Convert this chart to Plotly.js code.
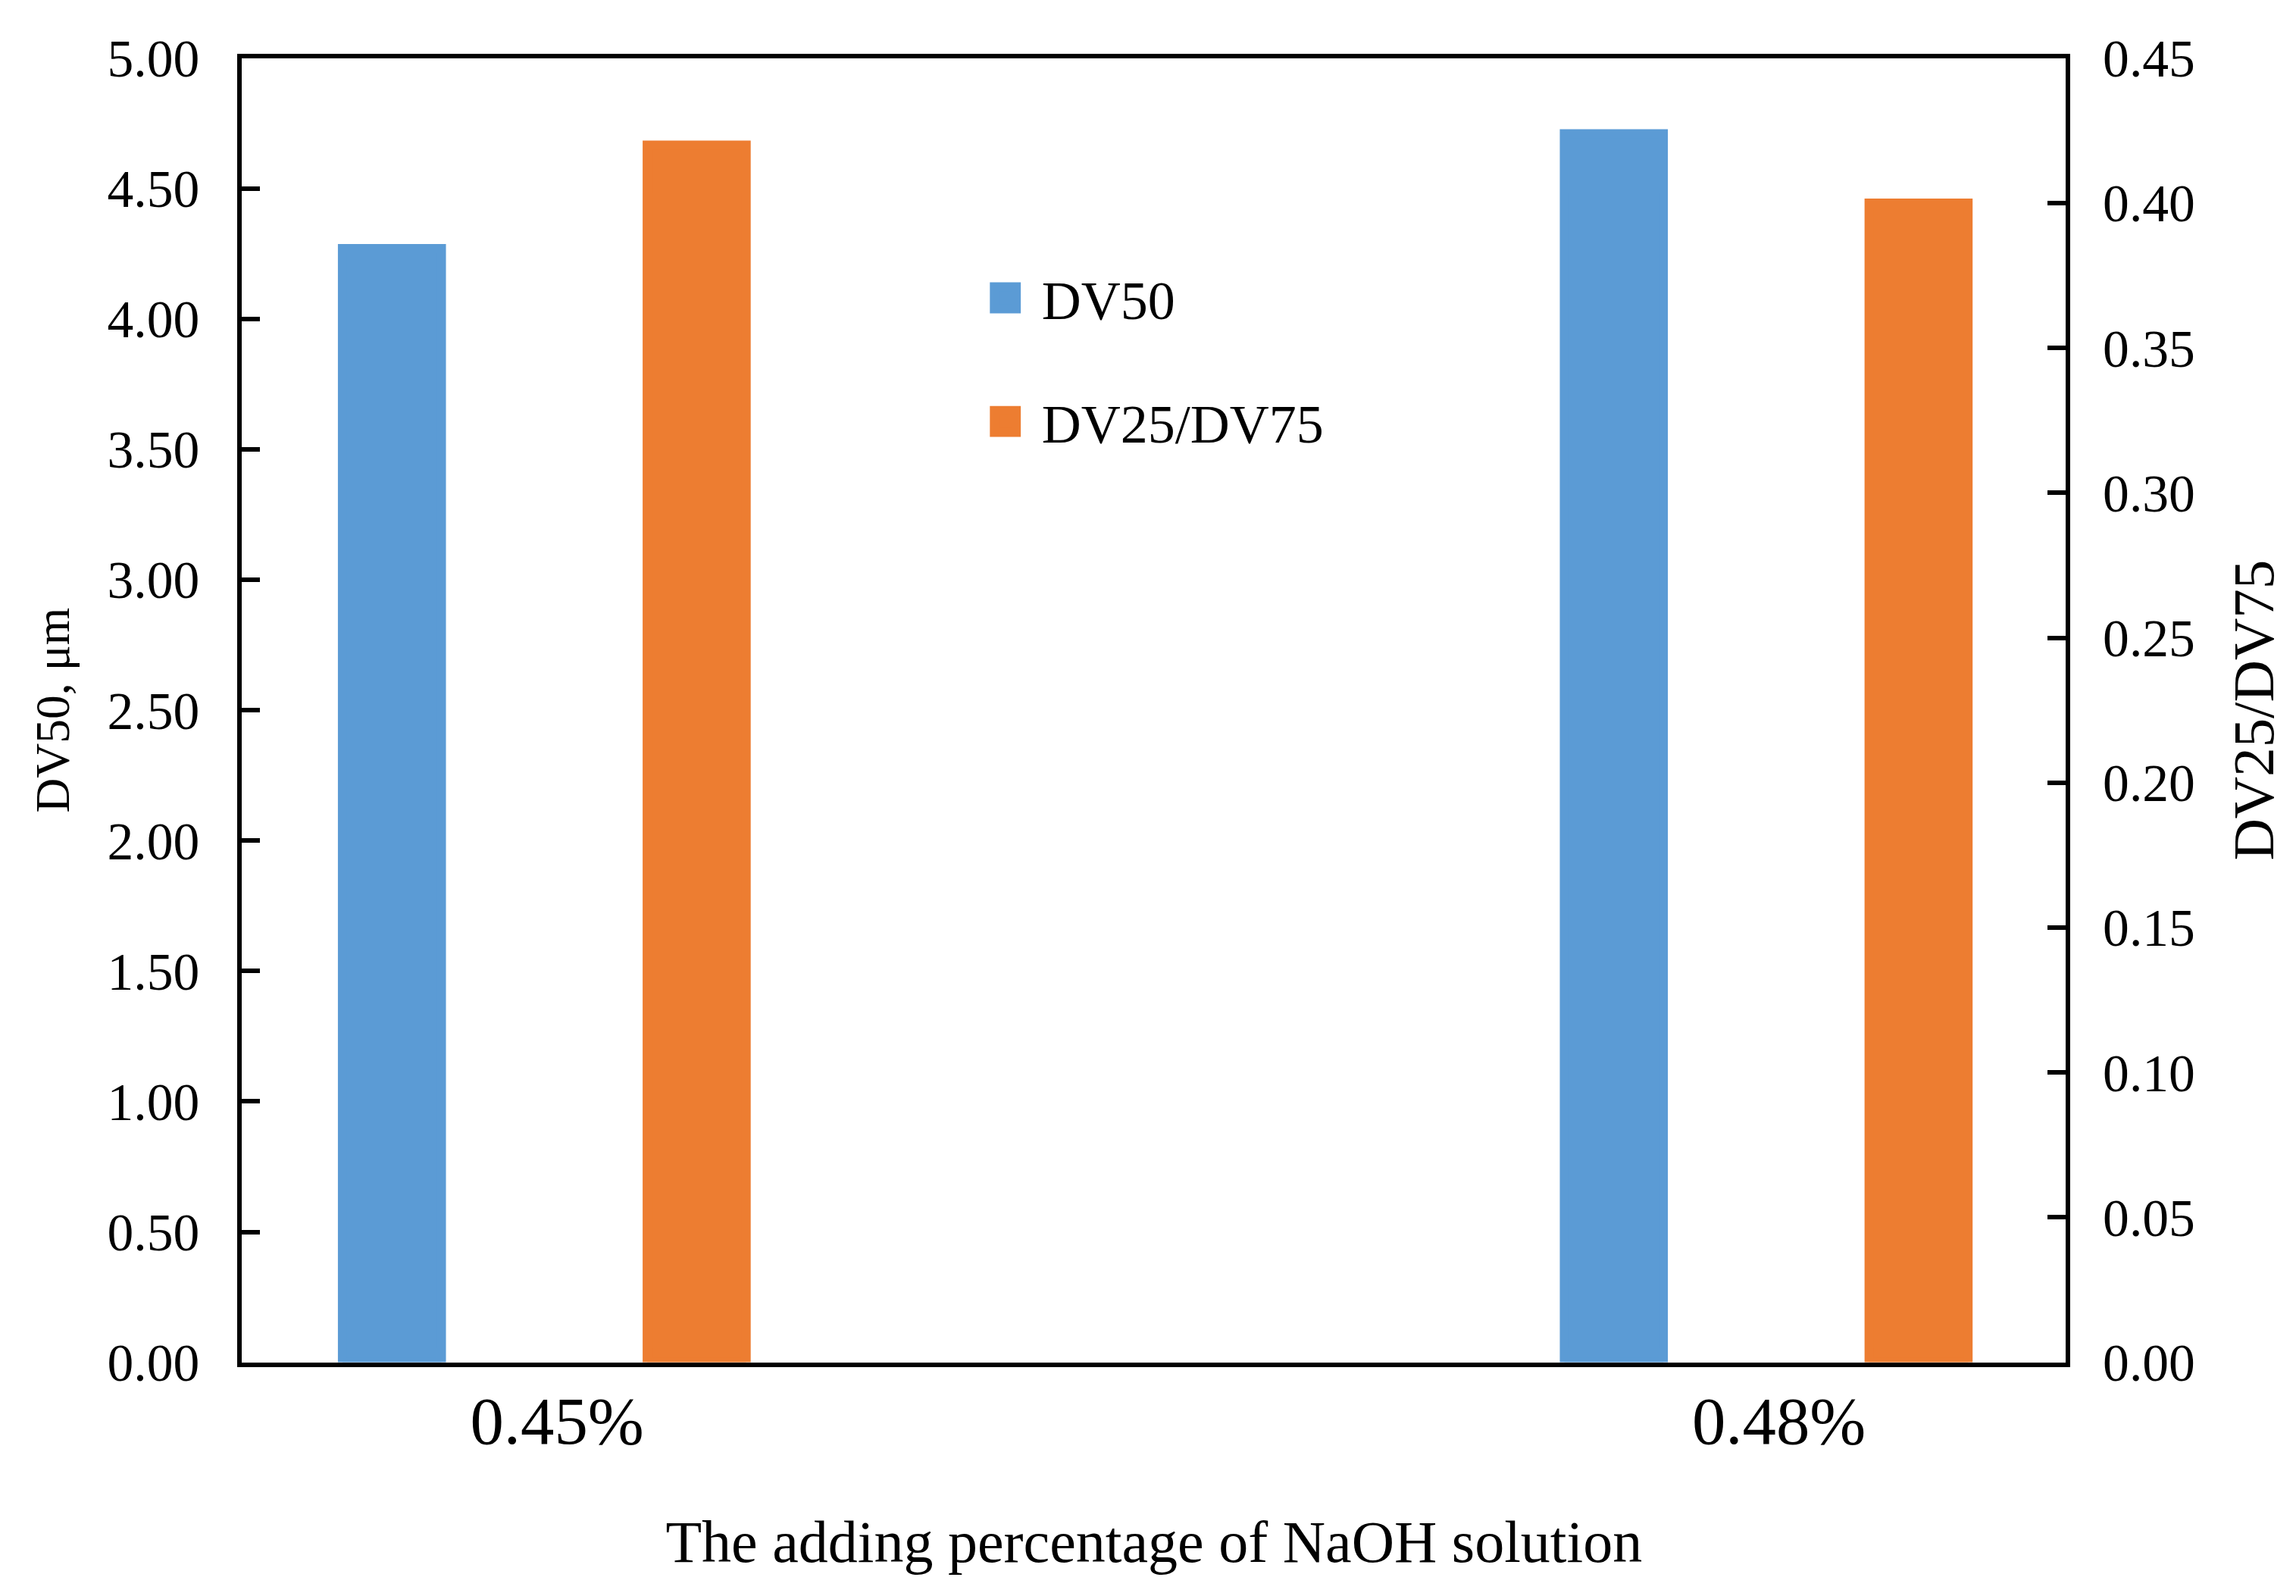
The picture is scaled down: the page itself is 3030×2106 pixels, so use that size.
<!DOCTYPE html>
<html>
<head>
<meta charset="utf-8">
<script src="https://cdn.plot.ly/plotly-3.0.1.min.js"></script>
<style>
html, body { margin: 0; padding: 0; background: #ffffff; width: 3030px; height: 2106px; overflow: hidden; }
#wrap { width: 1263px; height: 878px; transform: scale(2.4); transform-origin: 0 0; }
#chart { width: 1263px; height: 878px; }
</style>
</head>
<body>
<div id="wrap"><div id="chart"></div></div>
<script>
// ---- data ----
const categories = ['0.45%', '0.48%'];
const dv50 = [4.27, 4.71];
const dv25dv75 = [0.42, 0.40];

const leftTickVals = [0, 0.5, 1, 1.5, 2, 2.5, 3, 3.5, 4, 4.5, 5];
const leftTickText = ['0.00', '0.50', '1.00', '1.50', '2.00', '2.50', '3.00', '3.50', '4.00', '4.50', '5.00'];
const rightTickVals = [0, 0.05, 0.1, 0.15, 0.2, 0.25, 0.3, 0.35, 0.4, 0.45];
const rightTickText = ['0.00', '0.05', '0.10', '0.15', '0.20', '0.25', '0.30', '0.35', '0.40', '0.45'];

const seriesNames = ['DV50', 'DV25/DV75'];
const xTitle = 'The adding percentage of NaOH solution';
const yTitle = 'DV50, μm';
const y2Title = 'DV25/DV75';

// ---- style ----
const FONT = 'Liberation Serif, Times New Roman, serif';
const BLUE = '#5B9BD5';
const ORANGE = '#ED7D31';
const LW = 2.5;

const traces = [
  {
    type: 'bar', name: seriesNames[0], x: categories, y: dv50,
    xaxis: 'x', yaxis: 'y', width: 0.081, offset: -0.1652,
    marker: { color: BLUE, line: { color: BLUE, width: 5 } },
    legendgroup: 'a', hoverinfo: 'x+y'
  },
  {
    type: 'bar', name: seriesNames[1], x: categories, y: dv25dv75,
    xaxis: 'x', yaxis: 'y2', width: 0.081, offset: 0.0842,
    marker: { color: ORANGE, line: { color: ORANGE, width: 5 } },
    legendgroup: 'b', hoverinfo: 'x+y'
  }
];

const layout = {
  width: 1263, height: 878,
  margin: { l: 133, r: 126.5, t: 32.3, b: 129.25, pad: 0 },
  paper_bgcolor: '#ffffff', plot_bgcolor: '#ffffff',
  font: { family: FONT, color: '#000000' },
  barmode: 'overlay',
  showlegend: true,
  legend: {
    x: 0.3986, y: 0.8525, xanchor: 'left', yanchor: 'top',
    font: { family: FONT, size: 30, color: '#000000' },
    traceorder: 'grouped', tracegroupgap: 26,
    bgcolor: 'rgba(0,0,0,0)', borderwidth: 0
  },
  xaxis: {
    type: 'category', categoryorder: 'array', categoryarray: categories,
    range: [-0.2475, 1.2453],
    showline: true, linecolor: '#000000', linewidth: LW, mirror: true,
    ticks: '', showgrid: false, zeroline: false, automargin: false,
    tickfont: { family: FONT, size: 37, color: '#000000' },
    ticklabelstandoff: -2, ticklabelshift: 7,
    title: { text: xTitle, font: { family: FONT, size: 32.5, color: '#000000' }, standoff: 35.5 }
  },
  yaxis: {
    range: [0, 5], tickvals: leftTickVals, ticktext: leftTickText,
    showline: true, linecolor: '#000000', linewidth: LW,
    ticks: 'inside', ticklen: 10, tickwidth: LW, tickcolor: '#000000',
    showgrid: false, zeroline: false, automargin: false,
    tickfont: { family: FONT, size: 29, color: '#000000' },
    ticklabelstandoff: 15,
    title: { text: yTitle, font: { family: FONT, size: 26.5, color: '#000000' }, standoff: 13 }
  },
  yaxis2: {
    overlaying: 'y', side: 'right',
    range: [0, 0.45], tickvals: rightTickVals, ticktext: rightTickText,
    showline: true, linecolor: '#000000', linewidth: LW,
    ticks: 'inside', ticklen: 10, tickwidth: LW, tickcolor: '#000000',
    showgrid: false, zeroline: false, automargin: false,
    tickfont: { family: FONT, size: 29, color: '#000000' },
    ticklabelstandoff: 12,
    title: { text: y2Title, font: { family: FONT, size: 32, color: '#000000' }, standoff: 22 }
  }
};

Plotly.newPlot('chart', traces, layout, { displayModeBar: false, staticPlot: true });
</script>
</body>
</html>
